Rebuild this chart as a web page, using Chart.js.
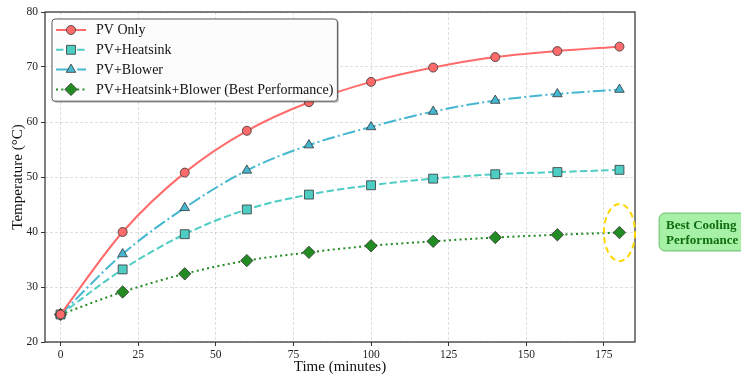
<!DOCTYPE html>
<html>
<head>
<meta charset="utf-8">
<script src="https://cdn.jsdelivr.net/npm/chart.js@4.4.0/dist/chart.umd.min.js"></script>
<style>
  html, body { margin: 0; padding: 0; background: #fff; }
  #wrap { width: 741px; height: 376px; }
</style>
</head>
<body>
<div id="wrap"><canvas id="tempChart" width="741" height="376"></canvas></div>
<script>
// 측정 데이터 (20분 간격)
const timeMinutes = [0, 20, 40, 60, 80, 100, 120, 140, 160, 180];
const pvOnly = [25.0, 40.0, 50.8, 58.4, 63.6, 67.3, 69.9, 71.8, 72.9, 73.7];
const pvHeatsink = [25.0, 33.2, 39.6, 44.1, 46.8, 48.5, 49.7, 50.5, 50.9, 51.3];
const pvBlower = [25.0, 36.0, 44.4, 51.2, 55.8, 59.1, 61.9, 63.9, 65.1, 65.9];
const pvHeatsinkBlower = [25.0, 29.1, 32.4, 34.8, 36.3, 37.5, 38.3, 39.0, 39.5, 39.9];
const seriesNames = ['PV Only', 'PV+Heatsink', 'PV+Blower', 'PV+Heatsink+Blower (Best Performance)'];
const xTicks = [0, 25, 50, 75, 100, 125, 150, 175];
const noteLines = ['Best Cooling', 'Performance'];

const SERIF = "'Liberation Serif', 'DejaVu Serif', serif";

function toPoints(values) {
    return values.map((v, i) => ({ x: timeMinutes[i], y: v }));
}

function makeSet(label, values, color, dash, style, radius) {
    return {
        label: label,
        data: toPoints(values),
        borderColor: color,
        backgroundColor: color,
        borderWidth: 2,
        borderDash: dash,
        borderCapStyle: 'butt',
        pointStyle: style,
        pointRadius: radius,
        pointBackgroundColor: color,
        pointBorderColor: '#333333',
        pointBorderWidth: 0.8,
        cubicInterpolationMode: 'monotone'
    };
}

const datasets = [
    makeSet(seriesNames[0], pvOnly, '#FF6B6B', [], 'circle', 4.5),
    makeSet(seriesNames[1], pvHeatsink, '#4ECDC4', [7.4, 3.2], 'rect', 6.3),
    makeSet(seriesNames[2], pvBlower, '#45B7D1', [12.8, 3.2, 2, 3.2], 'triangle', 5.5),
    makeSet(seriesNames[3], pvHeatsinkBlower, '#228B22', [2, 3.3], 'rectRot', 6.2)
];

// 흰 배경
const whiteBg = {
    id: 'whiteBg',
    beforeDraw(chart) {
        const ctx = chart.ctx;
        ctx.save();
        ctx.fillStyle = '#ffffff';
        ctx.fillRect(0, 0, chart.width, chart.height);
        ctx.restore();
    }
};

// 테두리, 강조 타원, 주석, 범례
const extras = {
    id: 'extras',
    afterDraw(chart) {
        const ctx = chart.ctx;
        const area = chart.chartArea;
        const xs = chart.scales.x;
        const ys = chart.scales.y;

        // 축 테두리
        ctx.save();
        ctx.strokeStyle = '#333333';
        ctx.lineWidth = 1.25;
        ctx.setLineDash([]);
        ctx.strokeRect(area.left, area.top, area.right - area.left, area.bottom - area.top);
        ctx.restore();

        // 마지막 점 강조 타원
        const last = timeMinutes.length - 1;
        const cx = xs.getPixelForValue(timeMinutes[last]);
        const cy = ys.getPixelForValue(pvHeatsinkBlower[last]);
        const rx = Math.abs(xs.getPixelForValue(timeMinutes[last] + 5) - cx);
        const ry = Math.abs(ys.getPixelForValue(pvHeatsinkBlower[last] + 5.2) - cy);
        ctx.save();
        ctx.strokeStyle = '#FFD700';
        ctx.lineWidth = 2;
        ctx.setLineDash([6, 4]);
        ctx.beginPath();
        ctx.ellipse(cx, cy, rx, ry, 0, 0, Math.PI * 2);
        ctx.stroke();
        ctx.restore();

        // 주석 박스
        const tx = xs.getPixelForValue(195);
        const ty = ys.getPixelForValue(40);
        ctx.save();
        ctx.font = "bold 13px " + SERIF;
        const lineH = 15;
        let w = 0;
        noteLines.forEach(t => { w = Math.max(w, ctx.measureText(t).width); });
        const bx = tx - 7, by = ty - lineH - 4, bw = w + 14, bh = lineH * 2 + 8;
        ctx.beginPath();
        ctx.roundRect(bx, by, bw, bh, 6);
        ctx.fillStyle = 'rgba(144, 238, 144, 0.8)';
        ctx.fill();
        ctx.strokeStyle = 'rgba(34, 139, 34, 0.55)';
        ctx.lineWidth = 1;
        ctx.stroke();
        ctx.fillStyle = '#0f6e0f';
        ctx.textBaseline = 'middle';
        ctx.textAlign = 'left';
        noteLines.forEach((t, i) => {
            ctx.fillText(t, tx, ty - lineH / 2 + i * lineH + 1);
        });
        ctx.restore();

        // 범례
        const lx = area.left + 7, ly = area.top + 7;
        const rowH = 19.8;
        ctx.save();
        ctx.font = "14px " + SERIF;
        let tw = 0;
        chart.data.datasets.forEach(d => { tw = Math.max(tw, ctx.measureText(d.label).width); });
        const lw = 44 + tw + 4, lh = rowH * chart.data.datasets.length + 3;
        ctx.beginPath();
        ctx.roundRect(lx + 1.5, ly + 1.5, lw, lh, 3);
        ctx.fillStyle = 'rgba(0,0,0,0.25)';
        ctx.fill();
        ctx.beginPath();
        ctx.roundRect(lx, ly, lw, lh, 3);
        ctx.fillStyle = 'rgba(255,255,255,0.95)';
        ctx.fill();
        ctx.strokeStyle = '#555555';
        ctx.lineWidth = 1;
        ctx.stroke();
        chart.data.datasets.forEach((d, i) => {
            const y = ly + 11 + i * rowH;
            ctx.setLineDash(d.borderDash);
            ctx.lineCap = 'butt';
            ctx.strokeStyle = d.borderColor;
            ctx.lineWidth = d.borderWidth;
            ctx.beginPath();
            ctx.moveTo(lx + 4, y);
            ctx.lineTo(lx + 34, y);
            ctx.stroke();
            ctx.setLineDash([]);
            ctx.fillStyle = d.pointBackgroundColor;
            ctx.strokeStyle = d.pointBorderColor;
            ctx.lineWidth = d.pointBorderWidth;
            Chart.helpers.drawPoint(ctx, {
                pointStyle: d.pointStyle, rotation: 0,
                radius: d.pointRadius, borderWidth: d.pointBorderWidth
            }, lx + 19, y);
            ctx.fillStyle = '#111111';
            ctx.textBaseline = 'middle';
            ctx.textAlign = 'left';
            ctx.fillText(d.label, lx + 44, y + 0.5);
        });
        ctx.restore();
    }
};

const chartInstance = new Chart(document.getElementById('tempChart').getContext('2d'), {
    type: 'line',
    data: { datasets: datasets },
    options: {
        responsive: false,
        animation: false,
        devicePixelRatio: 1,
        events: [],
        layout: { padding: { left: 0, right: 106, top: 12, bottom: 0 } },
        plugins: { legend: { display: false }, tooltip: { enabled: false } },
        scales: {
            x: {
                type: 'linear',
                min: -5,
                max: 185,
                afterBuildTicks: s => { s.ticks = xTicks.map(v => ({ value: v })); },
                afterFit: s => { s.height = 34; },
                grid: { color: 'rgba(0,0,0,0.16)', lineWidth: 0.8, tickColor: '#333', tickLength: 4, tickWidth: 1 },
                border: { display: false, dash: [3, 2] },
                ticks: { color: '#222', font: { family: SERIF, size: 11.5 }, padding: 2, maxRotation: 0 },
                title: { display: true, text: 'Time (minutes)', color: '#111', font: { family: SERIF, size: 15 }, padding: { top: 0, bottom: 0 } }
            },
            y: {
                min: 20,
                max: 80,
                afterFit: s => { s.width = 45; },
                grid: { color: 'rgba(0,0,0,0.16)', lineWidth: 0.8, tickColor: '#333', tickLength: 4, tickWidth: 1 },
                border: { display: false, dash: [3, 2] },
                ticks: { stepSize: 10, color: '#222', font: { family: SERIF, size: 11.5 }, padding: 3 },
                title: { display: true, text: 'Temperature (°C)', color: '#111', font: { family: SERIF, size: 15 }, padding: { top: 9, bottom: 0 } }
            }
        }
    },
    plugins: [whiteBg, extras]
});
</script>
</body>
</html>
